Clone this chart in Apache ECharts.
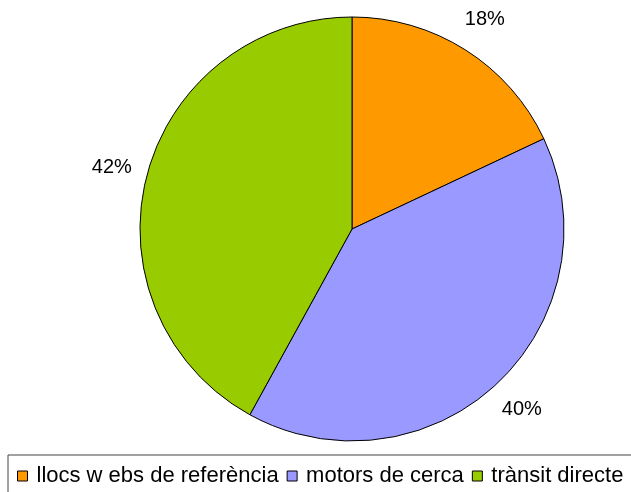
<!DOCTYPE html>
<html>
<head>
<meta charset="utf-8">
<script src="https://cdn.jsdelivr.net/npm/echarts@6/dist/echarts.min.js"></script>
<style>
  html, body { margin: 0; padding: 0; background: #fff; }
  #chart { width: 631px; height: 492px; }
</style>
</head>
<body>
<div id="chart"></div>
<script>
// categories and shares (%)
var categories = ["llocs w ebs de referència", "motors de cerca", "trànsit directe"];
var shares = [18, 40, 42];
var colors = ["#FF9900", "#9999FF", "#99CC00"];

var pieData = [];
for (var i = 0; i < categories.length; i++) {
  pieData.push({ name: categories[i], value: shares[i], itemStyle: { color: colors[i] } });
}

var chart = echarts.init(document.getElementById("chart"));
chart.setOption({
  backgroundColor: "#fff",
  animation: false,
  textStyle: { fontFamily: "Liberation Sans, Arial, sans-serif" },
  legend: {
    data: categories,
    left: 8,
    top: 455,
    width: 660,
    orient: "horizontal",
    padding: [10, 20, 10, 9],
    borderColor: "#444",
    borderWidth: 1,
    itemWidth: 10,
    itemHeight: 10,
    itemGap: 8,
    icon: "rect",
    itemStyle: { borderColor: "#000", borderWidth: 1 },
    textStyle: { fontSize: 22, color: "#000", padding: [0, 0, 0, 4] }
  },
  series: [{
    type: "pie",
    center: [352, 229],
    radius: 212,
    startAngle: 90,
    clockwise: true,
    data: pieData,
    itemStyle: { borderColor: "#000", borderWidth: 1 },
    label: {
      show: true,
      position: "outside",
      formatter: "{d}%",
      fontSize: 20,
      color: "#000",
      distanceToLabelLine: 0
    },
    labelLine: { show: false, length: 36, length2: 0 },
    emphasis: { disabled: true }
  }]
});
// centre each label on the end of its (hidden) label line
chart.setOption({
  series: [{
    labelLayout: function (p) {
      var w = p.labelRect.width;
      return { dx: p.align === "right" ? w / 2 : -w / 2 };
    }
  }]
});
</script>
</body>
</html>
